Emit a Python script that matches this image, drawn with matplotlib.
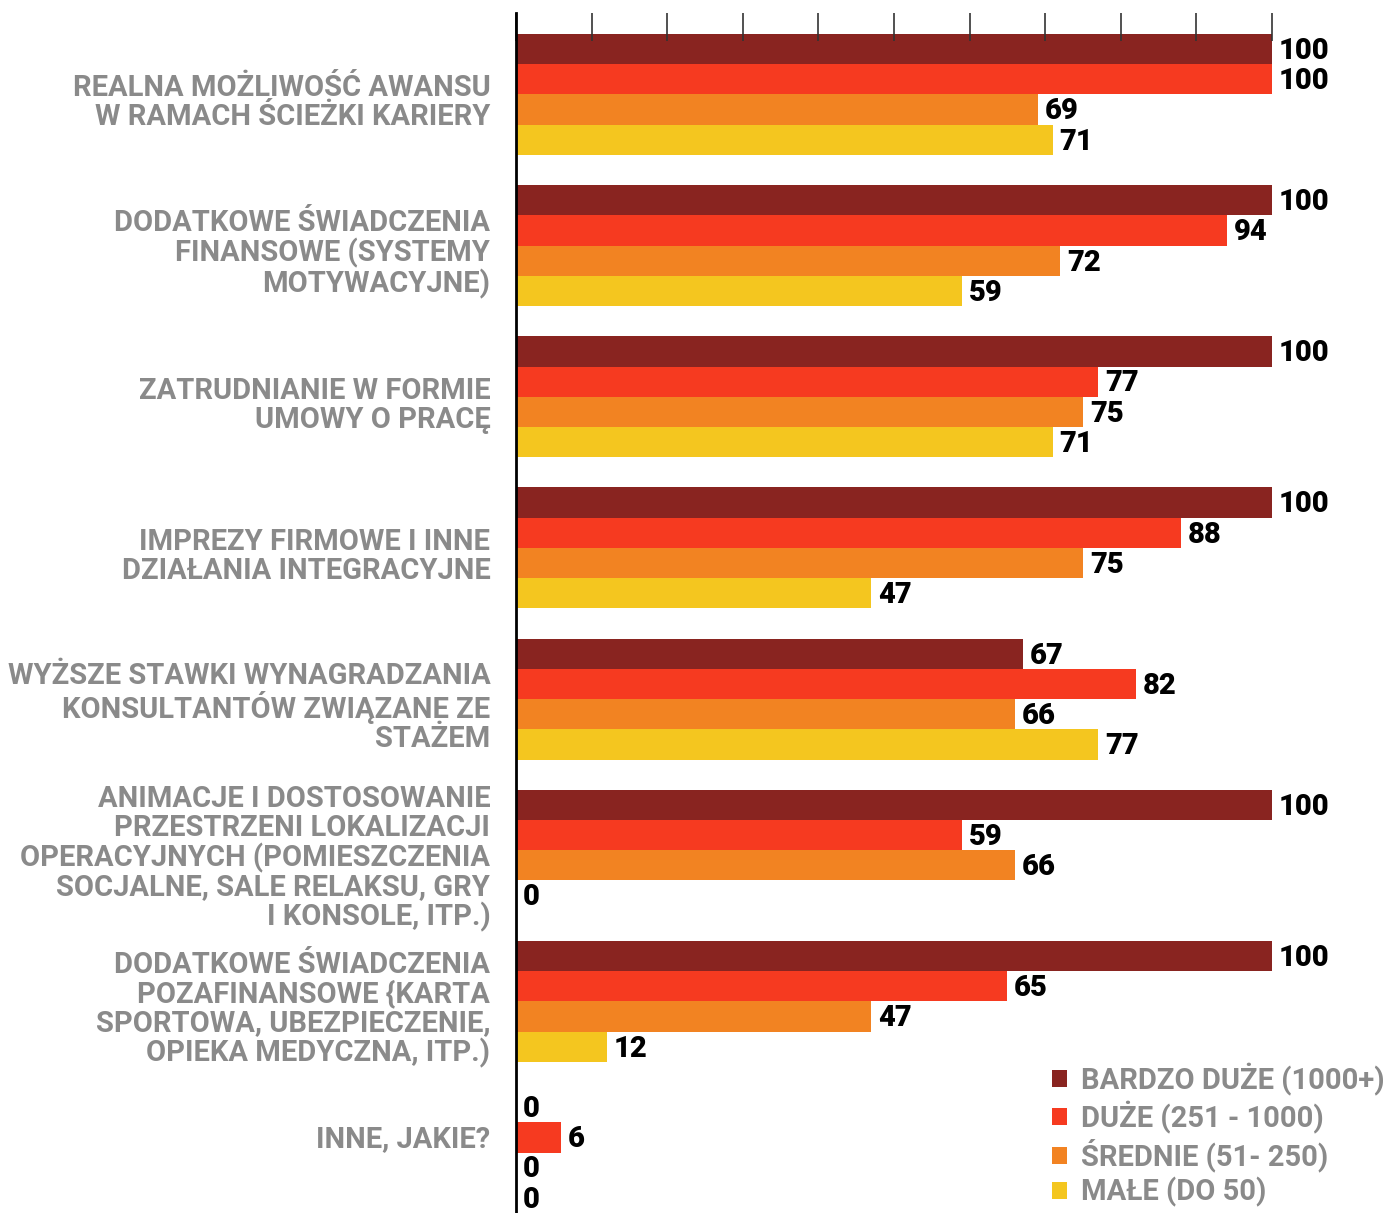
import matplotlib
matplotlib.use("Agg")
import matplotlib.pyplot as plt
from matplotlib.patches import Patch
import numpy as np

plt.rcParams['font.family'] = ['Roboto', 'DejaVu Sans']

categories = [
    "REALNA MOŻLIWOŚĆ AWANSU\nW RAMACH ŚCIEŻKI KARIERY",
    "DODATKOWE ŚWIADCZENIA\nFINANSOWE (SYSTEMY\nMOTYWACYJNE)",
    "ZATRUDNIANIE W FORMIE\nUMOWY O PRACĘ",
    "IMPREZY FIRMOWE I INNE\nDZIAŁANIA INTEGRACYJNE",
    "WYŻSZE STAWKI WYNAGRADZANIA\nKONSULTANTÓW ZWIĄZANE ZE\nSTAŻEM",
    "ANIMACJE I DOSTOSOWANIE\nPRZESTRZENI LOKALIZACJI\nOPERACYJNYCH (POMIESZCZENIA\nSOCJALNE, SALE RELAKSU, GRY\nI KONSOLE, ITP.)",
    "DODATKOWE ŚWIADCZENIA\nPOZAFINANSOWE {KARTA\nSPORTOWA, UBEZPIECZENIE,\nOPIEKA MEDYCZNA, ITP.)",
    "INNE, JAKIE?",
]

series_names = [
    "BARDZO DUŻE (1000+)",
    "DUŻE (251 - 1000)",
    "ŚREDNIE (51- 250)",
    "MAŁE (DO 50)",
]

bardzo_duze = [100, 100, 100, 100, 67, 100, 100, 0]
duze = [100, 94, 77, 88, 82, 59, 65, 6]
srednie = [69, 72, 75, 75, 66, 66, 47, 0]
male = [71, 59, 71, 47, 77, 0, 12, 0]

x_ticks = [0, 10, 20, 30, 40, 50, 60, 70, 80, 90, 100]

colors = ["#892420", "#F63A20", "#F28322", "#F4C61F"]
label_gray = "#8a8a8a"

values = [bardzo_duze, duze, srednie, male]

fig = plt.figure(figsize=(13.9, 12.13), dpi=100)
ax = fig.add_axes([516 / 1390, 0, 756 / 1390, 1200 / 1213])

bar_h = 0.2
y_base = np.arange(len(categories))
for s, (vals, col) in enumerate(zip(values, colors)):
    ys = y_base - 0.3 + s * bar_h
    ax.barh(ys, vals, height=bar_h, color=col, linewidth=0)
    for y, v in zip(ys, vals):
        ax.text(v + 0.9, y + 0.012, f"{v}", va="center", ha="left",
                fontsize=21, fontweight="black", color="black", clip_on=False)

ax.set_xlim(0, 100)
ax.set_ylim(7.4, -0.539)

# category labels to the left of the axis
for i, lab in enumerate(categories):
    y = i + 0.055 if i < len(categories) - 1 else i - 0.09
    ax.text(-3.4, y, lab, ha="right", va="center", multialignment="right",
            fontsize=21, fontweight="bold", color=label_gray,
            linespacing=1.04, clip_on=False)

for side in ["top", "right", "bottom"]:
    ax.spines[side].set_visible(False)
ax.spines["left"].set_linewidth(2)
ax.spines["left"].set_color("black")

ax.set_yticks([])
ax.set_xticks(x_ticks)
ax.tick_params(axis="x", which="both", bottom=False, labelbottom=False,
               top=True, labeltop=False, direction="in", length=20,
               width=1.2, color="#333333")

handles = [Patch(facecolor=c, edgecolor="none") for c in colors]
leg = fig.legend(handles, series_names, loc="upper left",
                 bbox_to_anchor=(1052 / 1390, 1 - 1062 / 1213),
                 frameon=False, fontsize=21, handlelength=0.52,
                 handleheight=0.52, handletextpad=0.48, labelspacing=0.18,
                 borderpad=0, borderaxespad=0)
for t in leg.get_texts():
    t.set_color(label_gray)
    t.set_fontweight("bold")

fig.savefig("out.png", dpi=100)
